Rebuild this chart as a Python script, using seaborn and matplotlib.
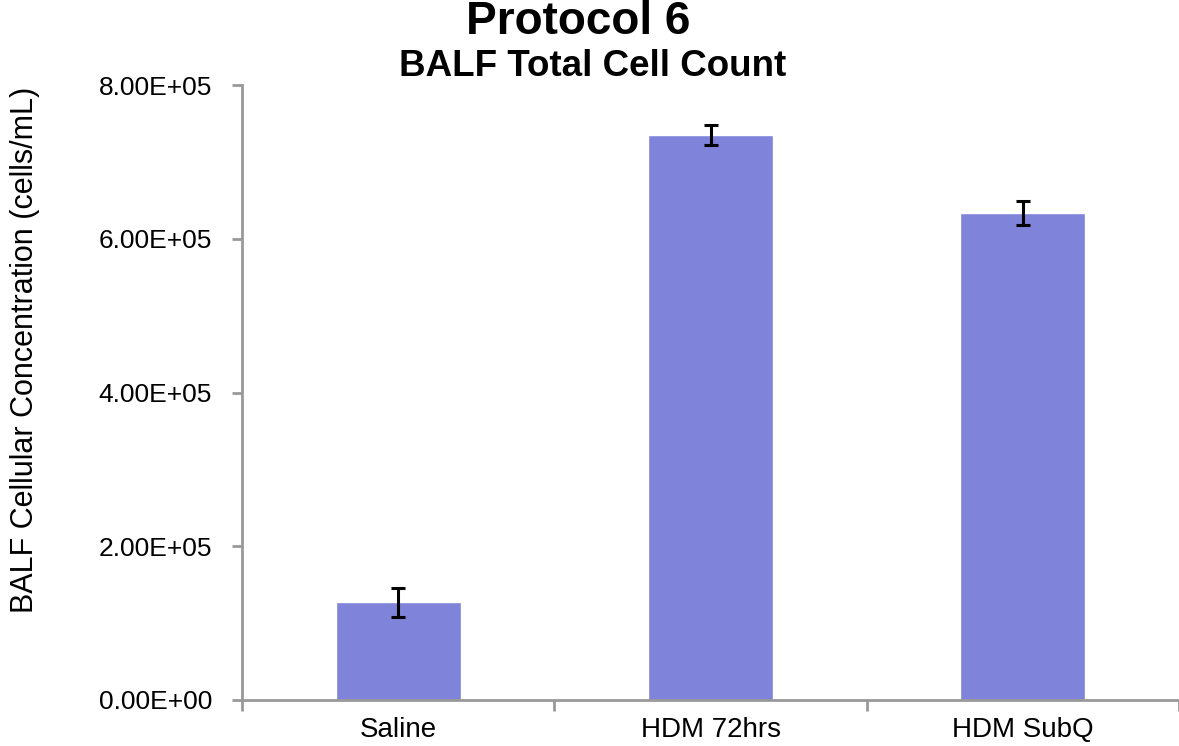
import matplotlib
matplotlib.use('Agg')
import matplotlib.pyplot as plt
import matplotlib.ticker as mticker
import pandas as pd
import seaborn as sns

# Data
groups = ['Saline', 'HDM 72hrs', 'HDM SubQ']
cell_conc = [1.27e5, 7.35e5, 6.33e5]
cell_err = [1.9e4, 1.35e4, 1.55e4]

df = pd.DataFrame({'group': groups, 'conc': cell_conc, 'err': cell_err})

sns.set_style('white')
plt.rcParams['font.family'] = ['Liberation Sans', 'DejaVu Sans']
plt.rcParams['text.color'] = 'black'
plt.rcParams['axes.labelcolor'] = 'black'
plt.rcParams['xtick.labelcolor'] = 'black'
plt.rcParams['ytick.labelcolor'] = 'black'

fig = plt.figure(figsize=(11.79, 7.46), dpi=100)
ax = fig.add_axes([0.2053, 0.0617, 0.7947, 0.8243])

sns.barplot(data=df, x='group', y='conc', color='#7F83D9', saturation=1,
            width=0.4, errorbar=None, ax=ax)
ax.errorbar(range(len(groups)), df['conc'], yerr=df['err'], fmt='none',
            ecolor='black', elinewidth=2.2, capsize=5, capthick=2.2)

ax.set_xlim(-0.5, 2.5)
ax.set_ylim(0, 8e5)
ax.yaxis.set_major_locator(mticker.MultipleLocator(2e5))
ax.yaxis.set_major_formatter(mticker.FormatStrFormatter('%.2E'))

# category boundaries get the tick marks, labels stay centred
ax.set_xticks([-0.5, 0.5, 1.5, 2.5], minor=True)
ax.tick_params(axis='x', which='major', length=0, pad=12, labelsize=20)
ax.tick_params(axis='x', which='minor', length=8, width=2, color='#999999',
               direction='out', bottom=True)
ax.tick_params(axis='y', length=7, width=2, color='#999999', direction='out',
               left=True, pad=14.5, labelsize=19)

for side in ['top', 'right']:
    ax.spines[side].set_visible(False)
for side in ['left', 'bottom']:
    ax.spines[side].set_color('#999999')
    ax.spines[side].set_linewidth(2)

ax.set_xlabel('')
ax.set_ylabel('BALF Cellular Concentration (cells/mL)', fontsize=22)
ax.yaxis.set_label_coords(-0.2156, 0.569)

fig.text(0.49, 0.97, 'Protocol 6', ha='center', va='center',
         fontsize=33, fontweight='bold')
fig.text(0.503, 0.911, 'BALF Total Cell Count', ha='center', va='center',
         fontsize=26.5, fontweight='bold')

fig.savefig('out.png', dpi=100)
